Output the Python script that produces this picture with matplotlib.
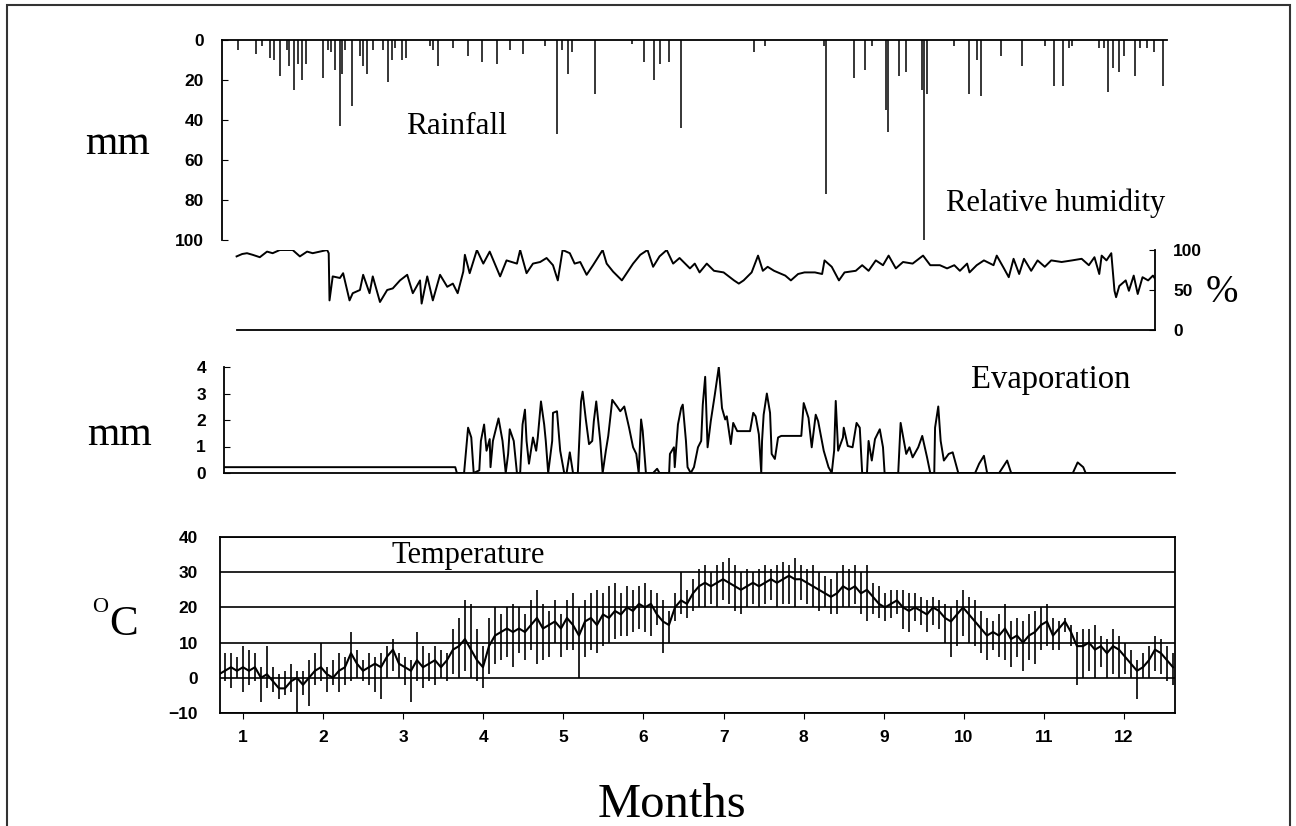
import numpy as np
import matplotlib.pyplot as plt
from matplotlib.patches import Rectangle

# datos (x en meses)
rain_month = [0.94, 1.16, 1.24, 1.34, 1.39, 1.46, 1.55, 1.57, 1.64, 1.69, 1.74, 1.79,
              2.00, 2.06, 2.10, 2.15, 2.21, 2.23, 2.27, 2.36, 2.46, 2.50, 2.55, 2.62,
              2.75, 2.81, 2.86, 2.90, 2.98, 3.03, 3.33, 3.37, 3.43, 3.62, 3.81, 3.98,
              4.17, 4.33, 4.49, 4.77, 4.92, 4.98, 5.06, 5.11, 5.39, 5.86, 6.00, 6.13,
              6.20, 6.32, 6.47, 7.38, 7.52, 8.25, 8.28, 8.63, 8.76, 8.85, 9.03, 9.05,
              9.19, 9.28, 9.48, 9.50, 9.54, 9.88, 10.06, 10.16, 10.21, 10.46, 10.72, 11.01,
              11.12, 11.24, 11.31, 11.35, 11.69, 11.75, 11.80, 11.86, 11.94, 12.00, 12.14, 12.20,
              12.28, 12.37, 12.48]
rain_mm = [5, 7, 3, 9, 10, 18, 5, 13, 25, 12, 20, 12,
           19, 5, 6, 15, 43, 17, 5, 33, 8, 13, 17, 5,
           5, 21, 10, 4, 10, 9, 3, 5, 13, 4, 8, 11,
           12, 5, 7, 3, 47, 5, 17, 6, 27, 2, 11, 20,
           12, 11, 44, 6, 3, 3, 77, 19, 15, 3, 35, 46,
           18, 16, 25, 100, 27, 3, 27, 10, 28, 8, 13, 3,
           23, 23, 4, 3, 4, 4, 26, 14, 16, 8, 18, 4,
           4, 6, 23]

rh_month = [0.92, 0.99, 1.05, 1.12, 1.21, 1.30, 1.37, 1.46, 1.62, 1.71,
            1.80, 1.87, 1.96, 2.05, 2.07, 2.08, 2.12, 2.21, 2.25, 2.33,
            2.37, 2.46, 2.50, 2.58, 2.62, 2.71, 2.80, 2.87, 2.96, 3.05,
            3.12, 3.21, 3.23, 3.30, 3.37, 3.46, 3.55, 3.62, 3.68, 3.75,
            3.77, 3.83, 3.92, 4.00, 4.08, 4.21, 4.29, 4.42, 4.46, 4.54,
            4.62, 4.71, 4.79, 4.87, 4.93, 4.99, 5.08, 5.14, 5.21, 5.29,
            5.37, 5.49, 5.54, 5.62, 5.73, 5.79, 5.87, 5.96, 6.05, 6.12,
            6.20, 6.29, 6.37, 6.45,
            6.58, 6.64, 6.70, 6.79, 6.88, 7.00, 7.13, 7.19, 7.25, 7.35,
            7.43, 7.49, 7.55, 7.63, 7.77, 7.84, 7.93, 8.01, 8.14, 8.23,
            8.26, 8.35, 8.44, 8.51, 8.65, 8.73, 8.81, 8.90, 8.99, 9.06,
            9.15, 9.24, 9.36, 9.49, 9.58, 9.70, 9.79, 9.88, 9.95, 10.04,
            10.07, 10.16, 10.25, 10.37, 10.41, 10.50, 10.56, 10.62, 10.69, 10.75,
            10.84, 10.92, 11.01, 11.09, 11.22, 11.35, 11.47, 11.56, 11.63, 11.69,
            11.72, 11.78, 11.84, 11.88, 11.90, 11.94, 12.02, 12.06, 12.12, 12.17,
            12.23, 12.30, 12.36, 12.40]
rh_pct = [92, 95, 96, 94, 91, 98, 96, 100, 100, 92,
          98, 96, 98, 100, 96, 37, 67, 65, 71, 37,
          46, 50, 69, 46, 67, 35, 50, 52, 62, 69,
          46, 62, 33, 67, 37, 69, 54, 58, 46, 73,
          94, 71, 100, 83, 98, 67, 87, 83, 100, 71,
          83, 85, 90, 81, 62, 100, 96, 83, 85, 69,
          81, 100, 83, 73, 62, 71, 83, 94, 100, 79,
          92, 100, 83, 90,
          77, 83, 72, 83, 74, 72, 62, 58, 62, 72,
          93, 74, 79, 74, 68, 62, 70, 72, 72, 70,
          87, 79, 62, 72, 74, 81, 74, 87, 81, 93,
          77, 85, 83, 93, 81, 81, 77, 81, 74, 83,
          72, 81, 87, 81, 93, 77, 66, 89, 70, 89,
          74, 87, 79, 87, 85, 87, 89, 81, 91, 70,
          93, 87, 96, 49, 41, 55, 62, 49, 68, 45,
          66, 62, 68, 62]

evap_month = [0.76, 3.65, 3.67, 3.76, 3.81, 3.85, 3.88, 3.95, 3.97, 4.01,
              4.04, 4.08, 4.09, 4.12, 4.19, 4.24, 4.28, 4.31, 4.33, 4.38,
              4.42, 4.46, 4.49, 4.52, 4.54, 4.57, 4.62, 4.66, 4.68, 4.72,
              4.76, 4.78, 4.81, 4.86, 4.87, 4.92, 4.96, 5.01, 5.04, 5.08,
              5.12, 5.18, 5.22, 5.24, 5.28, 5.32, 5.36, 5.38, 5.41, 5.46,
              5.49, 5.53, 5.56, 5.61, 5.67, 5.71, 5.76, 5.82, 5.87, 5.91,
              5.94, 5.97, 5.99, 6.03, 6.12, 6.17, 6.20, 6.32, 6.33, 6.38,
              6.39, 6.43, 6.47, 6.49, 6.53, 6.55, 6.59, 6.63, 6.68, 6.72,
              6.74, 6.77, 6.80, 6.84, 6.89, 6.94, 6.98, 7.02, 7.04, 7.09,
              7.12, 7.17, 7.33, 7.37, 7.40, 7.44, 7.47, 7.48, 7.50, 7.54,
              7.58, 7.60, 7.64, 7.68, 7.72, 7.97, 8.00, 8.06, 8.10, 8.15,
              8.18, 8.25, 8.31, 8.35, 8.38, 8.40, 8.43, 8.49, 8.50, 8.55,
              8.61, 8.66, 8.70, 8.73, 8.79, 8.81, 8.85, 8.89, 8.95, 8.99,
              9.01, 9.18, 9.21, 9.28, 9.32, 9.36, 9.43, 9.48, 9.54, 9.58,
              9.63, 9.64, 9.68, 9.71, 9.75, 9.81, 9.86, 9.93, 10.14, 10.19,
              10.25, 10.29, 10.44, 10.50, 10.54, 10.59, 11.36, 11.42, 11.49, 11.52,
              12.63]
evap_mm = [0.22, 0.22, 0, 0, 1.71, 1.34, 0, 0.1, 1.21, 1.83,
           0.84, 1.28, 0.22, 1.21, 2.06, 1.21, 0, 0.72, 1.65, 1.21,
           0, 0, 1.83, 2.39, 1.21, 0.35, 1.34, 0.84, 1.34, 2.7,
           1.83, 1.21, 0, 1.21, 2.27, 2.33, 0.84, 0, 0, 0.78,
           0, 0, 2.7, 3.07, 2.02, 1.09, 1.21, 1.96, 2.7, 1.21,
           0, 0.84, 1.40, 2.76, 2.51, 2.33, 2.51, 1.71, 0.97, 0.72,
           0, 2.02, 1.59, 0, 0, 0.16, 0, 0, 0.72, 0.97,
           0.22, 1.83, 2.45, 2.58, 1.21, 0.22, 0, 0.22, 0.97, 1.21,
           2.58, 3.63, 0.97, 1.96, 2.95, 4.0, 2.45, 2.02, 2.14, 1.09,
           1.89, 1.58, 1.58, 2.27, 2.14, 1.46, 0, 1.21, 2.2, 3.0,
           2.27, 0.72, 0.53, 1.34, 1.40, 1.40, 2.64, 2.08, 0.97, 2.2,
           1.96, 0.84, 0.22, 0, 0.84, 2.72, 0.84, 1.34, 1.71, 1.02,
           0.97, 1.89, 1.71, 0, 0, 1.21, 0.47, 1.28, 1.65, 0.97,
           0, 0, 1.89, 0.72, 0.97, 0.59, 0.97, 1.40, 0.59, 0,
           0, 1.71, 2.51, 1.21, 0.47, 0.72, 0.78, 0, 0, 0.35,
           0.65, 0, 0, 0.28, 0.47, 0, 0, 0.4, 0.22, 0,
           0]

# temperatura cada ~2 dias: media, minima y maxima
temp_start, temp_end = 0.70, 12.61
temp_mean = [1, 2, 3, 2, 3, 2, 3, 0, 1, -1,
             -3, -3, -1, 0, -2, 0, 2, 3, 1, 0,
             2, 3, 7, 4, 2, 3, 4, 3, 6, 8,
             4, 3, 2, 5, 3, 4, 5, 3, 5, 8,
             9, 11, 8, 5, 3, 9, 12, 13, 14, 13,
             14, 13, 15, 17, 14, 15, 16, 14, 17, 15,
             12, 16, 17, 15, 18, 17, 19, 18, 20, 19,
             21, 20, 21, 18, 16, 15, 20, 22, 21, 24,
             26, 27, 26, 27, 28, 27, 26, 25, 26, 27,
             26, 27, 28, 27, 28, 29, 28, 28, 27, 26,
             25, 24, 23, 24, 26, 25, 26, 24, 25, 23,
             21, 20, 21, 22, 20, 19, 20, 19, 18, 20,
             19, 17, 16, 18, 20, 18, 16, 14, 12, 13,
             12, 14, 11, 12, 10, 12, 13, 15, 16, 12,
             14, 16, 13, 9, 9, 10, 8, 9, 7, 9,
             8, 6, 4, 2, 3, 5, 8, 7, 5, 3]
temp_low = [-2, -1, -3, 0, -4, -2, -1, -7, -3, -4,
            -6, -5, -4, -10, -5, -8, -2, -1, -4, -2,
            -4, -2, -1, 0, -1, -2, -4, -6, 0, 2,
            0, -2, -7, -1, -3, -1, -2, 0, -1, 1,
            0, 2, 0, -1, -3, 1, 4, 5, 6, 3,
            7, 5, 8, 4, 5, 6, 10, 6, 8, 8,
            0, 6, 8, 7, 9, 10, 11, 12, 12, 13,
            14, 13, 12, 15, 7, 10, 16, 18, 17, 19,
            20, 20, 21, 20, 22, 21, 19, 18, 20, 21,
            20, 21, 22, 20, 21, 21, 20, 22, 21, 20,
            19, 20, 18, 18, 20, 20, 21, 18, 16, 18,
            17, 16, 17, 18, 14, 13, 16, 15, 13, 15,
            14, 10, 6, 9, 12, 10, 9, 7, 5, 8,
            6, 5, 3, 6, 2, 5, 4, 8, 9, 8,
            8, 13, 9, -2, 0, 2, 0, 3, 0, 1,
            0, 1, 0, -6, 0, 0, 2, 1, -1, -2]
temp_high = [5, 7, 7, 6, 9, 8, 7, 3, 9, 3,
             1, 2, 4, 2, 2, 5, 7, 10, 3, 5,
             7, 6, 13, 8, 5, 7, 6, 7, 9, 11,
             7, 6, 5, 13, 9, 7, 9, 8, 7, 14,
             17, 22, 21, 14, 9, 17, 20, 18, 20, 21,
             20, 18, 22, 25, 21, 19, 22, 18, 22, 24,
             20, 22, 24, 25, 24, 26, 27, 24, 26, 25,
             26, 27, 25, 24, 22, 19, 24, 30, 25, 28,
             31, 32, 30, 32, 33, 34, 32, 30, 31, 30,
             31, 32, 31, 32, 33, 32, 34, 32, 31, 32,
             30, 29, 28, 30, 32, 31, 32, 30, 32, 27,
             26, 24, 25, 25, 25, 24, 24, 23, 22, 23,
             22, 21, 20, 22, 25, 23, 22, 19, 17, 16,
             18, 21, 16, 17, 16, 18, 19, 20, 21, 17,
             16, 17, 15, 13, 14, 14, 15, 12, 11, 14,
             12, 10, 8, 5, 7, 9, 12, 11, 9, 7]

meses = list(range(1, 13))
rain_ticks = [0, 20, 40, 60, 80, 100]
rh_ticks = [0, 50, 100]
evap_ticks = [0, 1, 2, 3, 4]
temp_ticks = [-10, 0, 10, 20, 30, 40]

W, H = 1296, 826
SERIF = 'Liberation Serif'
SANS = 'Liberation Sans'


def caja(x0, y0, x1, y1):
    # caja en pixeles (origen arriba a la izquierda) -> fraccion de figura
    return [x0 / W, 1 - y1 / H, (x1 - x0) / W, (y1 - y0) / H]


def mes(px):
    return (px - 162.9) / 80.1


def texto(x, y, s, size, **kw):
    fig.text(x / W, 1 - y / H, s, ha='center', va='center',
             family=SERIF, fontsize=size, **kw)


def etiquetas(ax):
    for t in ax.get_xticklabels() + ax.get_yticklabels():
        t.set_fontfamily(SANS)
        t.set_fontweight('bold')
        t.set_fontsize(12.5)


plt.rcParams['font.family'] = SANS
fig = plt.figure(figsize=(W / 100, H / 100), dpi=100)

# lluvia
ax_r = fig.add_axes(caja(222, 40, 1167, 240))
ax_r.vlines(rain_month, 0, rain_mm, color='k', lw=1.1)
ax_r.set_xlim(mes(222), mes(1167))
ax_r.set_ylim(100, 0)
ax_r.spines['right'].set_visible(False)
ax_r.spines['bottom'].set_visible(False)
ax_r.set_xticks([])
ax_r.set_yticks(rain_ticks, [str(v) for v in rain_ticks])
ax_r.tick_params(axis='y', direction='in', length=4, pad=13)
etiquetas(ax_r)

# humedad relativa
ax_h = fig.add_axes(caja(222, 250, 1155, 330))
ax_h.plot(rh_month, rh_pct, color='k', lw=1.4)
ax_h.set_xlim(mes(222), mes(1155))
ax_h.set_ylim(0, 100)
ax_h.spines['left'].set_visible(False)
ax_h.spines['top'].set_visible(False)
ax_h.spines['bottom'].set_bounds(mes(237), mes(1155))
ax_h.set_xticks([])
ax_h.yaxis.tick_right()
ax_h.set_yticks(rh_ticks, [str(v) for v in rh_ticks])
ax_h.tick_params(axis='y', direction='in', length=4, pad=13)
etiquetas(ax_h)

# evaporacion
ax_e = fig.add_axes(caja(224, 367, 1175, 473))
ax_e.plot(evap_month, evap_mm, color='k', lw=1.4)
ax_e.set_xlim(mes(224), mes(1175))
ax_e.set_ylim(0, 4)
ax_e.spines['right'].set_visible(False)
ax_e.spines['top'].set_visible(False)
ax_e.set_xticks([])
ax_e.set_yticks(evap_ticks, [str(v) for v in evap_ticks])
ax_e.tick_params(axis='y', direction='in', length=4, pad=13)
etiquetas(ax_e)

# temperatura
temp_x = np.linspace(temp_start, temp_end, len(temp_mean))
ax_t = fig.add_axes(caja(220, 537, 1175, 713))
ax_t.vlines(temp_x, temp_low, temp_high, color='k', lw=1.2)
ax_t.plot(temp_x, temp_mean, color='k', lw=1.5)
ax_t.set_xlim(mes(220), mes(1175))
ax_t.set_ylim(-10, 40)
ax_t.set_yticks(temp_ticks, [str(v).replace('-', '\u2212') for v in temp_ticks])
ax_t.set_xticks(meses, [str(m) for m in meses])
ax_t.grid(axis='y', color='k', lw=1.2)
ax_t.tick_params(axis='y', length=0, pad=16)
ax_t.tick_params(axis='x', direction='out', length=4, pad=8)
etiquetas(ax_t)

for ax in (ax_r, ax_h, ax_e, ax_t):
    for sp in ax.spines.values():
        sp.set_linewidth(1.3)
    ax.patch.set_visible(False)

# textos
texto(117, 144, 'mm', 30)
texto(457, 127, 'Rainfall', 22.5)
texto(1056, 203, 'Relative humidity', 22)
texto(1222, 292, '%', 28)
texto(119, 435, 'mm', 30)
texto(1051, 380, 'Evaporation', 23.5)
texto(468, 555, 'Temperature', 22)
texto(100, 608, 'O', 16)
texto(124, 625, 'C', 31)
texto(672, 805, 'Months', 35)

# marco exterior
fig.add_artist(Rectangle((7 / W, -0.02), 1283 / W, 1.02 - 5 / H, transform=fig.transFigure,
                         fill=False, lw=1.5, color='#333333'))

plt.savefig('out.png', dpi=100)
